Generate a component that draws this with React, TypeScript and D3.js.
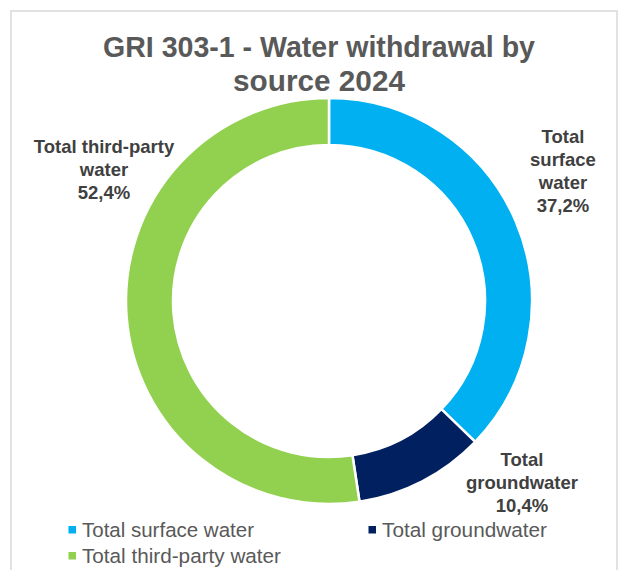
import React from "react";
import * as d3 from "d3";

const categories = ["Total surface water", "Total groundwater", "Total third-party water"];
const values = [37.2, 10.4, 52.4];
const colors = ["#00B0F0", "#002060", "#92D050"];
const labelLines = [
  ["Total", "surface", "water", "37,2%"],
  ["Total", "groundwater", "10,4%"],
  ["Total third-party", "water", "52,4%"],
];
const titleLines = ["GRI 303-1 - Water withdrawal by", "source 2024"];

const W = 622;
const H = 570;
const cx = 329;
const cy = 301;
const outerR = 203;
const innerR = 156;
const font = "'Liberation Sans', Arial, sans-serif";

// label anchor positions (center x, first baseline y)
const labelPos = [
  { x: 563, y: 143 },
  { x: 522, y: 466 },
  { x: 104, y: 153 },
];

export default function App() {
  const pie = d3.pie<number>().sort(null).value((d) => d);
  const arcs = pie(values);
  const arcGen = d3.arc<d3.PieArcDatum<number>>().innerRadius(innerR).outerRadius(outerR);

  const legendItems = [
    { i: 0, x: 72, y: 537, len: 172 },
    { i: 1, x: 372, y: 537, len: 165 },
    { i: 2, x: 72, y: 563, len: 199 },
  ];

  return (
    <svg width={W} height={H} style={{ position: "absolute", left: 0, top: 0, background: "#fff" }}>
      <rect x={0} y={0} width={W} height={H} fill="#fff" />
      <rect x={11} y={11} width={606} height={580} fill="#fff" stroke="#D9D9D9" strokeWidth={1.5} />
      {titleLines.map((t, i) => (
        <text
          key={i}
          x={319}
          y={57 + i * 34}
          textAnchor="middle"
          fontFamily={font}
          fontWeight="bold"
          fontSize={29}
          fill="#595959"
          textLength={i === 0 ? 432 : 172}
          lengthAdjust="spacingAndGlyphs"
        >
          {t}
        </text>
      ))}
      <g transform={`translate(${cx},${cy})`}>
        {arcs.map((a, i) => (
          <path key={i} d={arcGen(a) || ""} fill={colors[i]} stroke="#fff" strokeWidth={2.5} />
        ))}
      </g>
      {labelLines.map((lines, i) => (
        <text
          key={i}
          textAnchor="middle"
          fontFamily={font}
          fontWeight="bold"
          fontSize={18.5}
          fill="#404040"
        >
          {lines.map((l, j) => (
            <tspan key={j} x={labelPos[i].x} y={labelPos[i].y + j * 23}>
              {l}
            </tspan>
          ))}
        </text>
      ))}
      {legendItems.map((it) => (
        <g key={it.i}>
          <rect x={it.x - 3.5} y={it.y - 11} width={7.5} height={7.5} fill={colors[it.i]} />
          <text
            x={it.x + 10}
            y={it.y}
            fontFamily={font}
            fontSize={20.5}
            fill="#595959"
            textLength={it.len}
            lengthAdjust="spacingAndGlyphs"
          >
            {categories[it.i]}
          </text>
        </g>
      ))}
    </svg>
  );
}
